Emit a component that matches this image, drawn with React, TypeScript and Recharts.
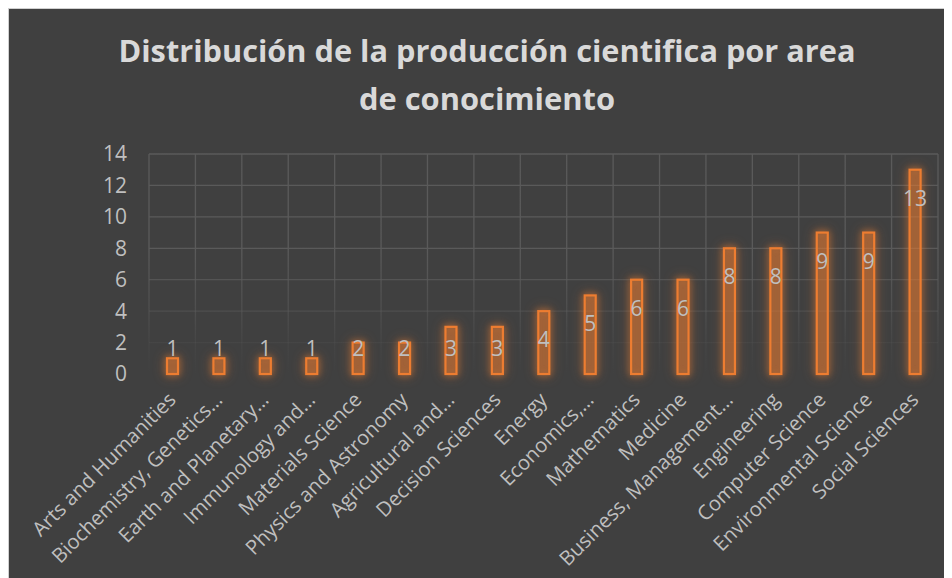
import React from 'react';
import { BarChart, Bar, XAxis, YAxis, CartesianGrid, LabelList } from 'recharts';

const categories = [
  'Arts and Humanities',
  'Biochemistry, Genetics…',
  'Earth and Planetary…',
  'Immunology and…',
  'Materials Science',
  'Physics and Astronomy',
  'Agricultural and…',
  'Decision Sciences',
  'Energy',
  'Economics,…',
  'Mathematics',
  'Medicine',
  'Business, Management…',
  'Engineering',
  'Computer Science',
  'Environmental Science',
  'Social Sciences',
];
const values = [1, 1, 1, 1, 2, 2, 3, 3, 4, 5, 6, 6, 8, 8, 9, 9, 13];
const yTicks = [0, 2, 4, 6, 8, 10, 12, 14];
const titleLines = ['Distribución de la producción cientifica por area', 'de conocimiento'];

const data = categories.map((name, i) => ({ name, value: values[i] }));

const FONT = '"Open Sans", "Noto Sans", sans-serif';
const W = 944;
const H = 570;

const BarShape = (props: any) => {
  const { x, y, width, height } = props;
  return (
    <rect
      x={x}
      y={y}
      width={width}
      height={height}
      fill="rgba(237,125,49,0.26)"
      stroke="#ED7D31"
      strokeWidth={2.2}
      style={{ filter: 'drop-shadow(0 0 3px rgba(237,125,49,0.7)) drop-shadow(0 0 6px rgba(237,125,49,0.45))' }}
    />
  );
};

const BarLabel = (props: any) => {
  const x = Number(props.x);
  const y = Number(props.y);
  const width = Number(props.width);
  const height = Number(props.height);
  const cx = x + width / 2;
  const base = y + height;
  const cy = Math.min(y + 28, base - 26);
  return (
    <text
      x={cx}
      y={cy}
      textAnchor="middle"
      dominantBaseline="central"
      fill="#bfbfbf"
      fontSize={21}
      fontFamily={FONT}
    >
      {props.value}
    </text>
  );
};

const XTick = (props: any) => {
  const { x, y, payload } = props;
  return (
    <text
      transform={`translate(${x + 5},${y + 27}) rotate(-45)`}
      textAnchor="end"
      fill="#bfbfbf"
      fontSize={20.3}
      fontFamily={FONT}
    >
      {payload.value}
    </text>
  );
};

export default function App() {
  return (
    <div
      style={{
        position: 'relative',
        width: W,
        height: H,
        background: '#404040',
        boxSizing: 'border-box',
        borderTop: '1px solid #d0d0d0',
        borderLeft: '1px solid #d0d0d0',
        overflow: 'hidden',
      }}
    >
      <svg width={0} height={0} style={{ position: 'absolute' }}>
        <defs>
          <linearGradient id="gridFade" gradientUnits="userSpaceOnUse" x1={0} y1={145} x2={0} y2={365}>
            <stop offset="0" stopColor="#5a5a5a" stopOpacity={1} />
            <stop offset="0.43" stopColor="#5a5a5a" stopOpacity={1} />
            <stop offset="0.71" stopColor="#5a5a5a" stopOpacity={0.55} />
            <stop offset="0.86" stopColor="#5a5a5a" stopOpacity={0.2} />
            <stop offset="1" stopColor="#5a5a5a" stopOpacity={0} />
          </linearGradient>
        </defs>
      </svg>
      <svg
        width={W}
        height={140}
        style={{ position: 'absolute', left: 0, top: 0, pointerEvents: 'none' }}
      >
        <text
          x={478}
          y={53}
          textAnchor="middle"
          fill="#d9d9d9"
          fontSize={29.5}
          fontWeight="bold"
          fontFamily={FONT}
          textLength={737}
          lengthAdjust="spacingAndGlyphs"
        >
          {titleLines[0]}
        </text>
        <text
          x={478}
          y={101}
          textAnchor="middle"
          fill="#d9d9d9"
          fontSize={29.5}
          fontWeight="bold"
          fontFamily={FONT}
          textLength={256}
          lengthAdjust="spacingAndGlyphs"
        >
          {titleLines[1]}
        </text>
      </svg>
      <BarChart
        width={W}
        height={H}
        data={data}
        margin={{ top: 145, right: 15, left: 0, bottom: 5 }}
        barCategoryGap="0%"
      >
        <CartesianGrid
          stroke="url(#gridFade)"
          strokeWidth={1.3}
          verticalCoordinatesGenerator={({ offset }: any) =>
            Array.from({ length: categories.length + 1 }, (_, i) => offset.left + (i * offset.width) / categories.length)
          }
        />
        <XAxis
          dataKey="name"
          interval={0}
          axisLine={false}
          tickLine={false}
          tickSize={0}
          tickMargin={0}
          height={200}
          tick={<XTick />}
        />
        <YAxis
          domain={[0, 14]}
          ticks={yTicks}
          interval={0}
          axisLine={false}
          tickLine={false}
          tickSize={0}
          tickMargin={22}
          width={140}
          tick={{ fill: '#bfbfbf', fontSize: 21, fontFamily: FONT }}
        />
        <Bar dataKey="value" barSize={11} shape={<BarShape />} isAnimationActive={false}>
          <LabelList dataKey="value" content={<BarLabel />} />
        </Bar>
      </BarChart>
    </div>
  );
}
